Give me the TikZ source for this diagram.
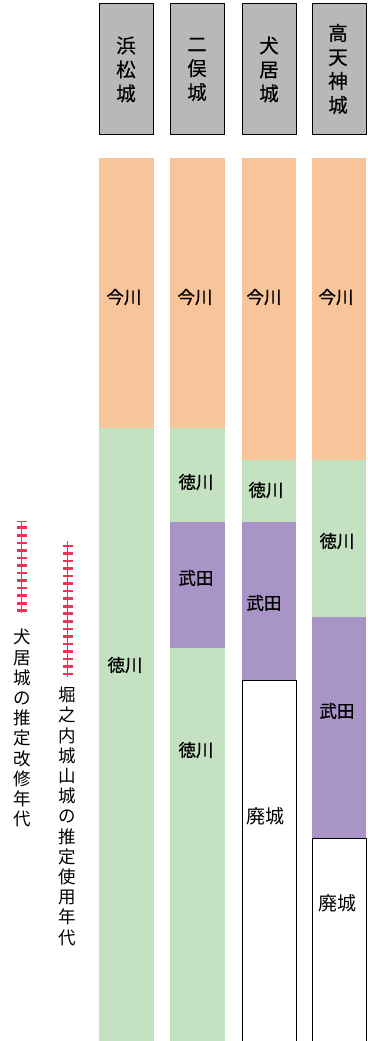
\documentclass[tikz,border=0pt]{standalone}
\usepackage{fontspec}
\setmainfont{Noto Sans CJK JP}
\newfontfamily\medfont[FakeBold=0.9]{Noto Sans CJK JP}
\newfontfamily\hdrfont[FakeBold=0.4]{Noto Sans CJK JP}
\definecolor{hdr}{HTML}{B8B8BA}
\definecolor{ora}{HTML}{F8C49A}
\definecolor{grn}{HTML}{C4E2C2}
\definecolor{pur}{HTML}{A994C8}
\definecolor{red}{HTML}{EB3358}
\begin{document}
\begin{tikzpicture}[x=1pt,y=-1pt,
  hdrbox/.style={draw=black,line width=1pt,fill=hdr},
  hdrtext/.style={align=center,font=\hdrfont\fontsize{19.5}{24}\selectfont,inner sep=0pt},
  lbl/.style={font=\medfont\fontsize{17.5}{20}\selectfont,inner sep=0pt},
  wlbl/.style={font=\fontsize{19}{22}\selectfont,inner sep=0pt},
  sidetext/.style={align=center,font=\fontsize{17.5}{20.2}\selectfont,inner sep=0pt}]
\useasboundingbox (0,0) rectangle (367,1041);
% headers
\draw[hdrbox] (99,4) rectangle (153,134);
\draw[hdrbox] (170,4) rectangle (224,134);
\draw[hdrbox] (242,4) rectangle (296,134);
\draw[hdrbox] (312,4) rectangle (366,134);
\node[hdrtext] (h1) at (126,69.5) {浜\\松\\城};
\node[hdrtext] (h2) at (197,69.5) {二\\俣\\城};
\node[hdrtext] (h3) at (269,69.5) {犬\\居\\城};
\node[hdrtext] (h4) at (338,69) {高\\天\\神\\城};
% column 1
\fill[ora] (99,158) rectangle (154,428);
\fill[grn] (99,428) rectangle (154,1041);
% column 2
\fill[ora] (170,158) rectangle (225,428);
\fill[grn] (170,428) rectangle (225,522);
\fill[pur] (170,522) rectangle (225,648);
\fill[grn] (170,648) rectangle (225,1041);
% column 3
\fill[ora] (242,158) rectangle (296,460);
\fill[grn] (242,460) rectangle (296,522);
\fill[pur] (242,522) rectangle (296,680);
\draw[line width=1pt] (242,1042) -- (242,680) -- (296,680) -- (296,1042);
% column 4
\fill[ora] (312,158) rectangle (366,460);
\fill[grn] (312,460) rectangle (366,617);
\fill[pur] (312,617) rectangle (366,838);
\draw[line width=1pt] (312,1042) -- (312,838) -- (366,838) -- (366,1042);
% labels
\node[lbl] (a1) at (124,297) {今川};
\node[lbl] (a2) at (125,665) {徳川};
\node[lbl] (b1) at (195,297) {今川};
\node[lbl] (b2) at (196,482) {徳川};
\node[lbl] (b3) at (196,578) {武田};
\node[lbl] (b4) at (196,750) {徳川};
\node[lbl] (c1) at (264,297) {今川};
\node[lbl] (c2) at (266,490) {徳川};
\node[lbl] (c3) at (264,603) {武田};
\node[wlbl] (c4) at (265.5,816) {廃城};
\node[lbl] (d1) at (336,297) {今川};
\node[lbl] (d2) at (337,541) {徳川};
\node[lbl] (d3) at (337,711) {武田};
\node[wlbl] (d4) at (337,903) {廃城};
% ladders
\draw[red,line width=0.8pt] (21.7,521) -- (21.7,613);
\draw[red,line width=1pt] (17,521) -- (26.5,521);
\foreach \i in {0,...,11} {
  \fill[red] (16.7,{526.4+7.55*\i}) rectangle (26.7,{529+7.55*\i});
}
\draw[red,line width=0.8pt] (67.5,541) -- (67.5,677);
\foreach \i in {0,...,17} {
  \fill[red] (62.5,{544.5+7.55*\i}) rectangle (72.5,{547.1+7.55*\i});
}
\node[sidetext,anchor=north] (s1) at (22,629) {犬\\居\\城\\の\\推\\定\\改\\修\\年\\代};
\node[sidetext,anchor=north] (s2) at (67.5,687) {堀\\之\\内\\城\\山\\城\\の\\推\\定\\使\\用\\年\\代};
\end{tikzpicture}
\end{document}
